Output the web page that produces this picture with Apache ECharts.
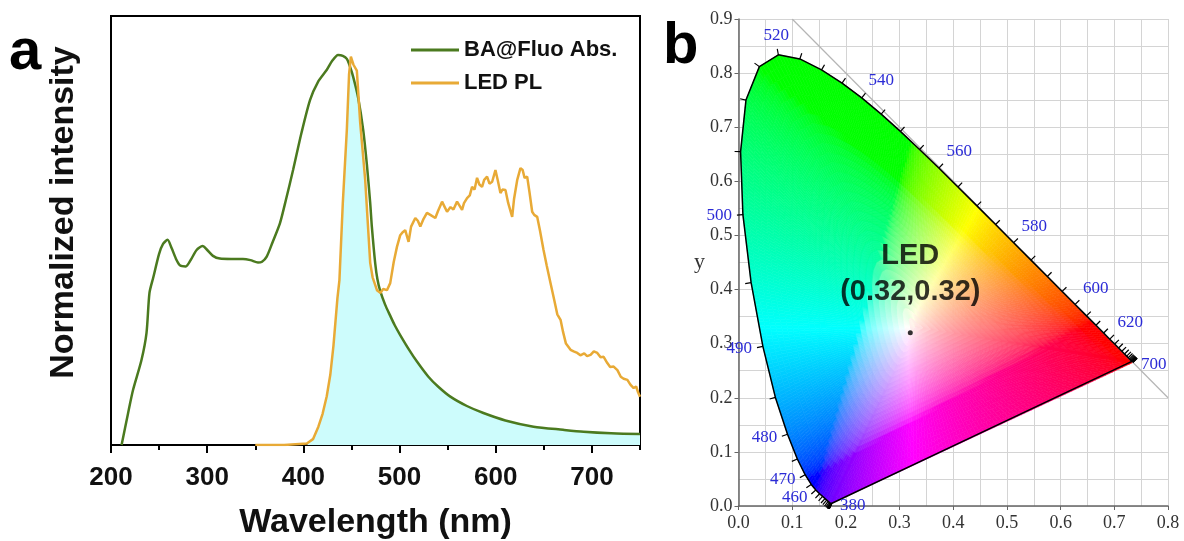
<!DOCTYPE html>
<html>
<head>
<meta charset="utf-8">
<script src="https://cdn.jsdelivr.net/npm/echarts@6/dist/echarts.min.js"></script>
<style>
html,body{margin:0;padding:0;background:#fff}
#main{width:1184px;height:541px}
</style>
</head>
<body>
<div id="main"></div>
<script>
// panel a : absorption of BA@Fluo (green)
var absWl  = [211,217.7,222.9,231.7,236.9,240,244,250,254,258.8,263,268,272,277.8,283,289,295.2,300,306,313.2,325,337.2,345,352.8,357,361.9,368,375.7,382,389.3,398,407,415,424.4,430,436.1,441,445.2,448.5,451.8,457,462.2,466,469.5,471.2,474.7,477,479.9,485,490,495,500.7,510,518.1,530,540,552.8,570,587.2,610,639.3,670,691.4,720,750];
var absVal = [0,0.081,0.141,0.218,0.287,0.39,0.43,0.49,0.515,0.526,0.505,0.475,0.46,0.458,0.475,0.5,0.51,0.5,0.485,0.478,0.477,0.477,0.474,0.468,0.47,0.483,0.52,0.569,0.63,0.705,0.8,0.885,0.93,0.962,0.985,1.0,0.998,0.99,0.97,0.944,0.89,0.808,0.72,0.62,0.56,0.466,0.425,0.395,0.36,0.333,0.307,0.282,0.244,0.214,0.175,0.15,0.124,0.1,0.082,0.063,0.047,0.039,0.034,0.03,0.028];

// panel a : LED emission (orange)
var plWl  = [350,380,403.6,410,415.6,420,424.3,428,431.3,435.4,437.5,441,445.2,447.5,449.4,450.8,452.1,453.5,455.6,459.1,464.3,469.5,472,476.5,480,483,486.9,490.3,494,497.3,500.7,503,505.9,509.4,512,516.4,519,521.6,525,528.5,532,537.2,540,544.2,547,549.4,553,556,559.8,565,567,570.2,573,575.4,578,580.6,583,585.8,588,591,593.5,596.3,599.7,602,604.9,607,610.1,613,617.1,619,622.3,625.7,628,630,632.7,635,637.9,640,643.1,646,649.7,653,657,661,664,667.4,670,673,677.8,681,684.8,688,692,695,698.6,702,705.6,709,712.2,716,719,722.6,726.5,730,733,736.9,740,743.4,746,748,750];
var plVal = [0,0,0.004,0.015,0.047,0.08,0.125,0.18,0.255,0.376,0.423,0.62,0.808,0.95,0.996,0.985,0.975,0.98,0.96,0.826,0.679,0.467,0.43,0.397,0.39,0.4,0.397,0.415,0.47,0.508,0.538,0.545,0.551,0.521,0.56,0.582,0.575,0.56,0.58,0.595,0.59,0.582,0.6,0.624,0.61,0.598,0.61,0.604,0.624,0.603,0.62,0.633,0.64,0.662,0.655,0.685,0.668,0.662,0.68,0.688,0.67,0.675,0.705,0.68,0.646,0.655,0.654,0.62,0.585,0.63,0.679,0.71,0.705,0.685,0.688,0.65,0.598,0.59,0.585,0.55,0.5,0.46,0.415,0.37,0.335,0.321,0.29,0.26,0.244,0.24,0.236,0.23,0.235,0.228,0.231,0.24,0.236,0.225,0.226,0.21,0.2,0.201,0.192,0.175,0.17,0.167,0.155,0.146,0.15,0.135,0.124];

// panel a : shaded overlap region (cyan)
var overlapWl  = [403.6,410,415.6,420,424.3,428,431.3,435.4,437.5,441,445.2,447.5,451.8,457,459.1,464.3,469.5,472,476.5,479.9,485,490,495,500.7,510,518.1,530,540,552.8,570,587.2,610,639.3,670,691.4,720,750];
var overlapVal = [0,0.015,0.047,0.08,0.125,0.18,0.255,0.376,0.423,0.62,0.808,0.97,0.944,0.89,0.826,0.679,0.467,0.43,0.397,0.392,0.36,0.333,0.307,0.282,0.244,0.214,0.175,0.15,0.124,0.1,0.082,0.063,0.047,0.039,0.034,0.03,0.028];

// panel b : CIE 1931 spectral locus
var cieWl = [380,385,390,395,400,405,410,415,420,425,430,435,440,445,450,455,460,465,470,475,480,485,490,495,500,505,510,515,520,525,530,535,540,545,550,555,560,565,570,575,580,585,590,595,600,605,610,615,620,625,630,635,640,645,650,655,660,665,670,675,680,685,690,695,700];
var cieX = [0.1741,0.1740,0.1738,0.1736,0.1733,0.1730,0.1726,0.1721,0.1714,0.1703,0.1689,0.1669,0.1644,0.1611,0.1566,0.1510,0.1440,0.1355,0.1241,0.1096,0.0913,0.0687,0.0454,0.0235,0.0082,0.0039,0.0139,0.0389,0.0743,0.1142,0.1547,0.1929,0.2296,0.2658,0.3016,0.3373,0.3731,0.4087,0.4441,0.4788,0.5125,0.5448,0.5752,0.6029,0.6270,0.6482,0.6658,0.6801,0.6915,0.7006,0.7079,0.7140,0.7190,0.7230,0.7260,0.7283,0.7300,0.7311,0.7320,0.7327,0.7334,0.7340,0.7344,0.7346,0.7347];
var cieY = [0.0050,0.0050,0.0049,0.0049,0.0048,0.0048,0.0048,0.0048,0.0051,0.0058,0.0069,0.0086,0.0109,0.0138,0.0177,0.0227,0.0297,0.0399,0.0578,0.0868,0.1327,0.2007,0.2950,0.4127,0.5384,0.6548,0.7502,0.8120,0.8338,0.8262,0.8059,0.7816,0.7543,0.7243,0.6923,0.6589,0.6245,0.5896,0.5547,0.5202,0.4866,0.4544,0.4242,0.3965,0.3725,0.3514,0.3340,0.3197,0.3083,0.2993,0.2920,0.2859,0.2809,0.2770,0.2740,0.2717,0.2700,0.2689,0.2680,0.2673,0.2666,0.2660,0.2656,0.2654,0.2653];
var cieLabelWl = [380,460,470,480,490,500,520,540,560,580,600,620,700];
var diagLine = [[0.1, 0.9], [0.8, 0.2]];
var ledXY = [0.32, 0.32];
var ledText = ['LED', '(0.32,0.32)'];

var SANS = 'Liberation Sans, Arial, sans-serif';
var SERIF = 'Liberation Serif, Times New Roman, serif';

function pairs(a, b) {
  return a.map(function (v, i) { return [v, b[i]]; });
}

// chromaticity -> display colour (clip negatives, scale to max)
function xyToRgb(x, y) {
  var X = x / y, Y = 1, Z = (1 - x - y) / y;
  var c = [
    3.2406 * X - 1.5372 * Y - 0.4986 * Z,
    -0.9689 * X + 1.8758 * Y + 0.0415 * Z,
    0.0557 * X - 0.2040 * Y + 1.0570 * Z
  ];
  c = c.map(function (v) { return Math.max(v, 0); });
  var m = Math.max(c[0], c[1], c[2]);
  c = c.map(function (v) {
    v = v / m;
    v = v <= 0.0031308 ? 12.92 * v : 1.055 * Math.pow(v, 1 / 2.4) - 0.055;
    return Math.round(Math.min(1, v) * 255);
  });
  return 'rgb(' + c.join(',') + ')';
}

function lerp(a, b, t) {
  return [a[0] + (b[0] - a[0]) * t, a[1] + (b[1] - a[1]) * t];
}

// fan of small cells between the centre and the locus / purple line
function renderGamut(params, api) {
  var W = [api.value(0), api.value(1)];
  var verts = pairs(cieX, cieY);
  verts.push(verts[0]);
  var kids = [];
  var K = 28;
  for (var i = 0; i < verts.length - 1; i++) {
    var A = verts[i], B = verts[i + 1];
    var len = Math.hypot(B[0] - A[0], B[1] - A[1]);
    if (len < 1e-6) continue;
    var n = Math.max(1, Math.ceil(len / 0.007));
    for (var j = 0; j < n; j++) {
      var P = lerp(A, B, j / n), Q = lerp(A, B, (j + 1) / n);
      for (var k = 0; k < K; k++) {
        var t0 = k / K, t1 = (k + 1) / K;
        var q = [lerp(W, P, t0), lerp(W, Q, t0), lerp(W, Q, t1), lerp(W, P, t1)];
        var cx = (q[0][0] + q[1][0] + q[2][0] + q[3][0]) / 4;
        var cy = (q[0][1] + q[1][1] + q[2][1] + q[3][1]) / 4;
        var col = xyToRgb(cx, cy);
        kids.push({
          type: 'polygon',
          shape: { points: q.map(function (p) { return api.coord(p); }) },
          style: { fill: col, stroke: col, lineWidth: 0.6 },
          silent: true
        });
      }
    }
  }
  return { type: 'group', children: kids };
}

// wavelength ticks and blue labels on the locus
function renderTick(params, api) {
  var i = params.dataIndex;
  var pts = cieX.map(function (x, j) { return api.coord([x, cieY[j]]); });
  var p = pts[i];
  var d = function (u, v) { return Math.hypot(u[0] - v[0], u[1] - v[1]); };
  var a = i, b = i;
  while (a > 0 && d(pts[a], p) < 4) a--;
  while (b < pts.length - 1 && d(pts[b], p) < 4) b++;
  var tx = pts[b][0] - pts[a][0], ty = pts[b][1] - pts[a][1];
  var l = Math.hypot(tx, ty) || 1;
  tx /= l; ty /= l;
  var nx = ty, ny = -tx;
  var kids = [{
    type: 'line',
    shape: { x1: p[0], y1: p[1], x2: p[0] + nx * 6, y2: p[1] + ny * 6 },
    style: { stroke: '#000', lineWidth: 1.2 }
  }];
  var wl = cieWl[i];
  if (cieLabelWl.indexOf(wl) >= 0) {
    var lx, ly, al, va;
    if (i === 0 || i === cieWl.length - 1) {
      lx = p[0] + 8; ly = p[1] + 2; al = 'left'; va = 'middle';
    } else {
      lx = p[0] + nx * 11; ly = p[1] + ny * 11;
      al = nx > 0.35 ? 'left' : (nx < -0.35 ? 'right' : 'center');
      va = ny > 0.7 ? 'top' : (ny < -0.5 ? 'bottom' : 'middle');
    }
    kids.push({
      type: 'text', x: lx, y: ly,
      style: { text: String(wl), fill: '#2b2bd6', font: '17px ' + SERIF, align: al, verticalAlign: va }
    });
  }
  return { type: 'group', children: kids };
}

var chart = echarts.init(document.getElementById('main'));

var option = {
  animation: false,
  backgroundColor: '#fff',
  graphic: [
    { type: 'text', x: 9, y: 82, style: { text: 'a', font: 'bold 58px ' + SANS, fill: '#000', verticalAlign: 'bottom' } },
    { type: 'text', x: 663, y: 76, style: { text: 'b', font: 'bold 58px ' + SANS, fill: '#000', verticalAlign: 'bottom' } }
  ],
  legend: {
    data: [{ name: 'BA@Fluo Abs.', icon: 'rect' }, { name: 'LED PL', icon: 'rect' }],
    orient: 'vertical',
    left: 406,
    top: 34,
    itemWidth: 48,
    itemHeight: 3,
    itemGap: 11,
    textStyle: { fontFamily: SANS, fontWeight: 'bold', fontSize: 22, color: '#111', lineHeight: 20 }
  },
  grid: [
    { left: 111, top: 16, width: 529, height: 429, show: true, borderColor: '#000', borderWidth: 2, backgroundColor: 'transparent', outerBoundsMode: 'none' },
    { left: 738.5, top: 19, width: 429.5, height: 487, outerBoundsMode: 'none' }
  ],
  xAxis: [
    {
      gridIndex: 0, type: 'value', min: 200, max: 750, interval: 100, position: 'bottom',
      name: 'Wavelength (nm)', nameLocation: 'middle', nameGap: 61,
      nameTextStyle: { fontFamily: SANS, fontWeight: 'bold', fontSize: 34, color: '#111' },
      axisLine: { lineStyle: { color: '#000', width: 2 } },
      axisTick: { length: 8, lineStyle: { color: '#000', width: 2 } },
      axisLabel: { showMaxLabel: false, margin: 20, fontFamily: SANS, fontWeight: 'bold', fontSize: 26, color: '#111' },
      splitLine: { show: false }
    },
    {
      gridIndex: 0, type: 'value', min: 200, max: 750, interval: 50, position: 'bottom',
      axisLine: { show: false },
      axisTick: { length: 5, lineStyle: { color: '#000', width: 2 } },
      axisLabel: { show: false },
      splitLine: { show: false }
    },
    {
      gridIndex: 1, type: 'value', min: 0, max: 0.8, interval: 0.1,
      name: 'x', nameLocation: 'middle', nameGap: 20,
      nameTextStyle: { fontFamily: SERIF, fontSize: 22, color: '#333', padding: [0, 0, 0, 54] },
      axisLine: { lineStyle: { color: '#666', width: 1.5 } },
      axisTick: { length: 4, lineStyle: { color: '#666' } },
      minorTick: { show: false, splitNumber: 2 },
      axisLabel: { margin: 8, fontFamily: SERIF, fontSize: 18, color: '#333', formatter: function (v) { return v.toFixed(1); } },
      splitLine: { lineStyle: { color: '#d4d4d4', width: 1 } },
      minorSplitLine: { show: true, lineStyle: { color: '#d4d4d4', width: 1 } }
    }
  ],
  yAxis: [
    {
      gridIndex: 0, type: 'value', min: 0, max: 1.1,
      name: 'Normalized intensity', nameLocation: 'middle', nameGap: 30, nameRotate: 90,
      nameTextStyle: { fontFamily: SANS, fontWeight: 'bold', fontSize: 34, color: '#111', padding: [0, 0, 0, 36] },
      axisLine: { lineStyle: { color: '#000', width: 2 } },
      axisTick: { show: false },
      axisLabel: { show: false },
      splitLine: { show: false }
    },
    {
      gridIndex: 1, type: 'value', min: 0, max: 0.9, interval: 0.1,
      name: 'y', nameLocation: 'middle', nameGap: 28, nameRotate: 0,
      nameTextStyle: { fontFamily: SERIF, fontSize: 22, color: '#333', padding: [0, 0, 18, 0] },
      axisLine: { lineStyle: { color: '#666', width: 1.5 } },
      axisTick: { length: 4, lineStyle: { color: '#666' } },
      minorTick: { show: false, splitNumber: 2 },
      axisLabel: { margin: 6, fontFamily: SERIF, fontSize: 18, color: '#333', formatter: function (v) { return v.toFixed(1); } },
      splitLine: { lineStyle: { color: '#d4d4d4', width: 1 } },
      minorSplitLine: { show: true, lineStyle: { color: '#d4d4d4', width: 1 } }
    }
  ],
  series: [
    {
      name: 'overlap', type: 'line', xAxisIndex: 0, yAxisIndex: 0,
      data: pairs(overlapWl, overlapVal),
      symbol: 'none', silent: true, z: 1,
      lineStyle: { width: 0, opacity: 0 },
      areaStyle: { color: '#cdfcfc', opacity: 1 }
    },
    {
      name: 'BA@Fluo Abs.', type: 'line', xAxisIndex: 0, yAxisIndex: 0,
      data: pairs(absWl, absVal),
      symbol: 'none', smooth: 0.25, z: 3,
      color: '#4b7a1f',
      lineStyle: { color: '#4b7a1f', width: 2.5 }
    },
    {
      name: 'LED PL', type: 'line', xAxisIndex: 0, yAxisIndex: 0,
      data: pairs(plWl, plVal),
      symbol: 'none', z: 4,
      color: '#e8aa36',
      lineStyle: { color: '#e8aa36', width: 2.5 }
    },
    {
      name: 'gamut', type: 'custom', xAxisIndex: 2, yAxisIndex: 1,
      data: [[0.33, 0.33]],
      renderItem: renderGamut, silent: true, z: 2
    },
    {
      name: 'diagonal', type: 'line', xAxisIndex: 2, yAxisIndex: 1,
      data: diagLine, symbol: 'none', silent: true, z: 3,
      lineStyle: { color: '#b5b5b5', width: 1.2 }
    },
    {
      name: 'locus', type: 'line', xAxisIndex: 2, yAxisIndex: 1,
      data: pairs(cieX, cieY).concat([[cieX[0], cieY[0]]]),
      symbol: 'none', silent: true, z: 4,
      lineStyle: { color: '#000', width: 1.5 }
    },
    {
      name: 'ticks', type: 'custom', xAxisIndex: 2, yAxisIndex: 1,
      data: cieWl.map(function (w, i) { return [cieX[i], cieY[i], w]; }),
      renderItem: renderTick, silent: true, z: 5
    },
    {
      name: 'LED', type: 'scatter', xAxisIndex: 2, yAxisIndex: 1,
      data: [ledXY], symbolSize: 5, z: 6,
      itemStyle: { color: '#000' },
      label: {
        show: true, position: 'top', distance: 20,
        formatter: ledText.join('\n'),
        fontFamily: SANS, fontWeight: 'bold', fontSize: 29, lineHeight: 36, color: '#000'
      }
    }
  ]
};

chart.setOption(option);
window.onresize = chart.resize;
</script>
</body>
</html>
